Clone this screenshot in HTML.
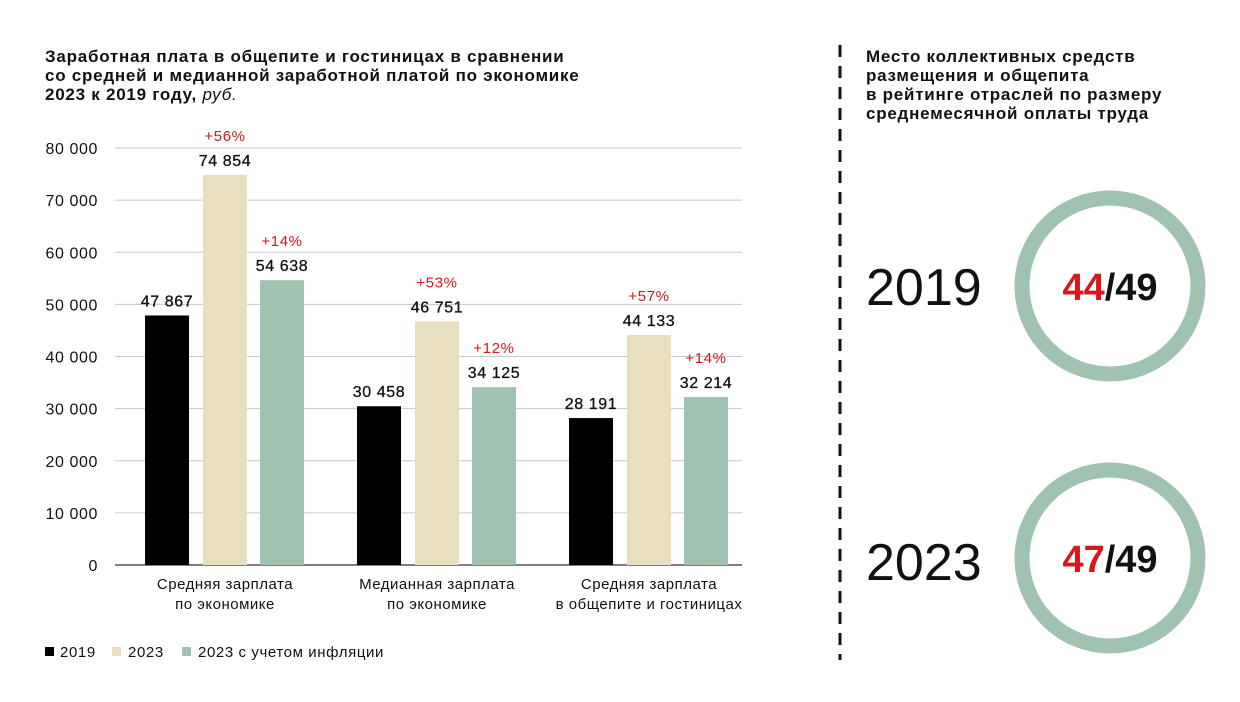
<!DOCTYPE html>
<html><head><meta charset="utf-8"><style>
body{margin:0;background:#fff;font-family:"Liberation Sans",sans-serif;}
svg text{font-family:"Liberation Sans",sans-serif;}
</style></head><body>
<svg id="c" width="1240" height="697" xmlns="http://www.w3.org/2000/svg">
<g font-size="17" font-weight="bold" fill="#111" letter-spacing="0.75">
<text x="45" y="62">Заработная плата в общепите и гостиницах в сравнении</text>
<text x="45" y="81">со средней и медианной заработной платой по экономике</text>
<text x="45" y="100">2023 к 2019 году, <tspan font-weight="normal" font-style="italic">руб.</tspan></text>
</g>
<g id="grid"></g>
<g id="bars"></g>
<g font-size="15" fill="#111" letter-spacing="0.6">
<rect x="45" y="647" width="9" height="9" fill="#000"/>
<text x="60" y="657">2019</text>
<rect x="112" y="647" width="9" height="9" fill="#e8dfbf"/>
<text x="128" y="657">2023</text>
<rect x="182" y="647" width="9" height="9" fill="#a0c2b0"/>
<text x="198" y="657">2023 с учетом инфляции</text>
</g>
<line x1="840" y1="45" x2="840" y2="660" stroke="#111" stroke-width="3" stroke-dasharray="12,9"/>
<g font-size="17" font-weight="bold" fill="#111" letter-spacing="0.75">
<text x="866" y="62">Место коллективных средств</text>
<text x="866" y="81">размещения и общепита</text>
<text x="866" y="100">в рейтинге отраслей по размеру</text>
<text x="866" y="119">среднемесячной оплаты труда</text>
</g>
<g>
<text x="866" y="305" font-size="52" fill="#111">2019</text>
<circle cx="1110" cy="286" r="88" fill="none" stroke="#a0c2b0" stroke-width="15"/>
<text x="1110" y="300" font-size="38" font-weight="bold" text-anchor="middle" fill="#111"><tspan fill="#d7161e">44</tspan>/49</text>
</g>
<g>
<text x="866" y="580" font-size="52" fill="#111">2023</text>
<circle cx="1110" cy="558" r="88" fill="none" stroke="#a0c2b0" stroke-width="15"/>
<text x="1110" y="572" font-size="38" font-weight="bold" text-anchor="middle" fill="#111"><tspan fill="#d7161e">47</tspan>/49</text>
</g>
</svg>
<script>
const categories=[["Средняя зарплата","по экономике"],["Медианная зарплата","по экономике"],["Средняя зарплата","в общепите и гостиницах"]];
const v2019=[47867,30458,28191];
const v2023=[74854,46751,44133];
const vInfl=[54638,34125,32214];
const pct2023=["+56%","+53%","+57%"];
const pctInfl=["+14%","+12%","+14%"];
const yTicks=[0,10000,20000,30000,40000,50000,60000,70000,80000];
const NS="http://www.w3.org/2000/svg";
const y0=565,yTop=148,yMax=80000,xL=115,xR=742;
const y=v=>y0-(v/yMax)*(y0-yTop);
const groupX=i=>145+i*212;
function mk(tag,attrs,parent,txt){const e=document.createElementNS(NS,tag);for(const k in attrs)e.setAttribute(k,attrs[k]);if(txt!=null)e.textContent=txt;parent.appendChild(e);return e;}
const fmt=v=>String(v).replace(/\B(?=(\d{3})+(?!\d))/g," ");
const grid=document.getElementById('grid'),bars=document.getElementById('bars');
yTicks.forEach(t=>{
 const l=mk('line',{x1:xL,x2:xR,y1:y(t),y2:y(t),stroke:t===0?'#555':'#c8c8c8','stroke-width':t===0?1.5:1},grid);
 
 
 const tx=mk('text',{x:98,y:y(t)+6,'text-anchor':'end','font-size':16,'letter-spacing':0.6,fill:'#111'},grid,fmt(t));
 
 
});
const series=[[v2019,'#000',0,null],[v2023,'#e8dfbf',58,pct2023],[vInfl,'#a0c2b0',115,pctInfl]];
categories.forEach((c,i)=>{
 series.forEach(([arr,col,off,pc])=>{
  const x=groupX(i)+off,v=arr[i];
  const r=mk('rect',{x:x,y:y(v),width:44,height:y0-y(v),fill:col},bars);
  
  
  const t=mk('text',{x:x+22,y:y(v)-9,'text-anchor':'middle','font-size':16,'font-weight':'500','letter-spacing':0.6,fill:'#111',stroke:'#111','stroke-width':0.3},bars,fmt(v));
  
  
  if(pc){const p=mk('text',{x:x+22,y:y(v)-34,'text-anchor':'middle','font-size':15,'letter-spacing':0.6,fill:'#d7161e'},bars,pc[i]);
  
  }
 });
 c.forEach((ln,k)=>{const t=mk('text',{x:groupX(i)+80,y:589+k*20,'text-anchor':'middle','font-size':15,'letter-spacing':0.5,fill:'#111'},bars,ln);
 
 });
});
</script>
</body></html>
